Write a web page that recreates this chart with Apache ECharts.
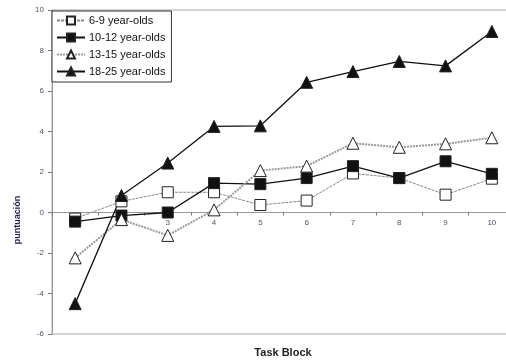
<!DOCTYPE html>
<html>
<head>
<meta charset="utf-8">
<style>
  html, body { margin: 0; padding: 0; background: #fff; }
  #chart { width: 506px; height: 360px; }
</style>
<script src="https://cdn.jsdelivr.net/npm/echarts@6/dist/echarts.min.js"></script>
</head>
<body>
<div id="chart"></div>
<script>
// Task blocks along the x axis
const blocks = ['1', '2', '3', '4', '5', '6', '7', '8', '9', '10'];

// Mean score per task block for each age group
const age6to9   = [-0.3, 0.55, 1.0, 1.0, 0.37, 0.59, 1.93, 1.7, 0.88, 1.67];
const age10to12 = [-0.45, -0.15, 0.0, 1.45, 1.4, 1.7, 2.29, 1.7, 2.53, 1.91];
const age13to15 = [-2.24, -0.35, -1.13, 0.13, 2.07, 2.29, 3.42, 3.22, 3.39, 3.69];
const age18to25 = [-4.5, 0.84, 2.44, 4.25, 4.28, 6.43, 6.96, 7.46, 7.24, 8.94];

const seriesNames = ['6-9 year-olds', '10-12 year-olds', '13-15 year-olds', '18-25 year-olds'];

const font = 'Liberation Sans, Arial, sans-serif';
const chart = echarts.init(document.getElementById('chart'), null, { renderer: 'canvas' });

// plot rectangle: value 10 at the top edge, -6 at the bottom edge
const plot = { left: 52, top: 10, width: 463, height: 324 };
const yMin = -6, yMax = 10;
// distance from the bottom edge up to the zero line, so the category axis sits on y = 0
const zeroOffset = plot.height * (0 - yMin) / (yMax - yMin);

function makeSeries(name, data, symbol, fill, line) {
  return {
    name: name,
    type: 'line',
    data: data,
    symbol: symbol,
    symbolSize: symbol === 'triangle' ? 12 : 11,
    showSymbol: true,
    animation: false,
    itemStyle: { color: fill, borderColor: '#222', borderWidth: 1 },
    lineStyle: line,
    emphasis: { disabled: true }
  };
}

chart.setOption({
  backgroundColor: '#fff',
  animation: false,
  title: {
    text: 'Task Block',
    left: 283, top: 347,
    textAlign: 'center',
    padding: 0,
    textStyle: { fontFamily: font, fontSize: 11, fontWeight: 'bold', color: '#222' }
  },
  graphic: [{
    type: 'text',
    x: 18, y: 220,
    rotation: Math.PI / 2,
    style: {
      text: 'puntuación',
      fontFamily: font, fontSize: 9, fontWeight: 'bold',
      fill: '#23234d',
      align: 'center', verticalAlign: 'middle'
    }
  }],
  grid: Object.assign({
    outerBoundsMode: 'none',
    containLabel: false,
    show: true, borderColor: '#a8a8a8', borderWidth: 1, backgroundColor: 'transparent'
  }, plot),
  legend: {
    orient: 'vertical',
    left: 52, top: 11,
    itemWidth: 28, itemHeight: 10, itemGap: 6,
    padding: [4, 6, 5, 4],
    backgroundColor: '#fff',
    borderColor: '#333', borderWidth: 1, borderRadius: 0,
    textStyle: { fontFamily: font, fontSize: 11, color: '#111', padding: [0, 0, 0, -1] },
    data: seriesNames
  },
  xAxis: {
    type: 'category',
    data: blocks,
    boundaryGap: true,
    offset: -zeroOffset,
    axisLine: { onZero: false, lineStyle: { color: '#999', width: 1 } },
    axisTick: { show: true, length: 3, inside: false, lineStyle: { color: '#777' } },
    axisLabel: { fontFamily: font, fontSize: 8, color: '#556', margin: 6 },
    splitLine: { show: false }
  },
  yAxis: {
    type: 'value',
    min: yMin, max: yMax, interval: 2,
    axisLine: { show: true, lineStyle: { color: '#999', width: 1 } },
    axisTick: { show: true, length: 4, lineStyle: { color: '#777' } },
    axisLabel: { fontFamily: font, fontSize: 8, color: '#556', margin: 8 },
    splitLine: { show: false }
  },
  series: [
    makeSeries(seriesNames[0], age6to9, 'rect', '#fff', { color: '#888', width: 1, type: [3, 1] }),
    makeSeries(seriesNames[1], age10to12, 'rect', '#111', { color: '#111', width: 1.3, type: 'solid' }),
    makeSeries(seriesNames[2], age13to15, 'triangle', '#fff', { color: '#999', width: 2, type: [2, 1] }),
    makeSeries(seriesNames[3], age18to25, 'triangle', '#111', { color: '#111', width: 1.3, type: 'solid' })
  ]
});
</script>
</body>
</html>
